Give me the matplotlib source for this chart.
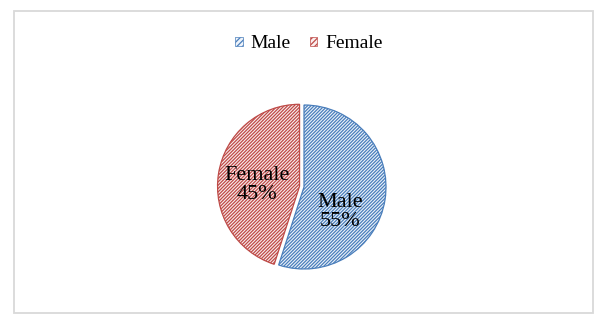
import matplotlib
matplotlib.use("Agg")
import matplotlib.pyplot as plt
from matplotlib.patches import Rectangle, Patch

categories = ["Male", "Female"]
values = [55, 45]
pct_labels = ["55%", "45%"]

edge_colors = ["#4a7ebb", "#be4b48"]
face_colors = ["#eef3fa", "#faeeee"]

plt.rcParams['font.family'] = ['Liberation Serif', 'DejaVu Serif']
plt.rcParams['hatch.linewidth'] = 0.9

W, H = 610, 326
fig = plt.figure(figsize=(W / 100, H / 100), dpi=100)
fig.patch.set_facecolor("white")

# outer border
fig.add_artist(Rectangle((14 / W, (H - 313) / H), (593 - 14) / W, (313 - 11) / H,
                         transform=fig.transFigure, fill=False,
                         edgecolor="#d9d9d9", linewidth=1.3))

cx, cy, r = 304, 187, 82
ax = fig.add_axes([(cx - r) / W, (H - cy - r) / H, 2 * r / W, 2 * r / H])
wedges, _ = ax.pie(values, startangle=90, counterclock=False,
                   explode=[0, 0.055], radius=1)
for w, ec, fc in zip(wedges, edge_colors, face_colors):
    w.set_facecolor(fc)
    w.set_edgecolor(ec)
    w.set_hatch("//////////")
    w.set_linewidth(0.9)
    w.set_clip_on(False)
ax.set_xlim(-1, 1)
ax.set_ylim(-1, 1)
ax.set_aspect("equal")
ax.axis("off")

label_pos = [(0.44, -0.31), (-0.57, 0.02)]
for (x, y), cat, p in zip(label_pos, categories, pct_labels):
    ax.text(x, y, f"{cat}\n{p}", ha="center", va="center", fontsize=16,
            color="#000000", linespacing=1.0)

handles = [Patch(facecolor=fc, edgecolor=ec, hatch="//////", linewidth=0.5)
           for fc, ec in zip(face_colors, edge_colors)]
fig.legend(handles, categories, loc="center", bbox_to_anchor=(309 / W, (H - 44) / H),
           ncol=2, frameon=False, fontsize=14, handlelength=0.38, handleheight=0.38,
           handletextpad=0.4, columnspacing=1.0)

fig.savefig("out.png", dpi=100)
